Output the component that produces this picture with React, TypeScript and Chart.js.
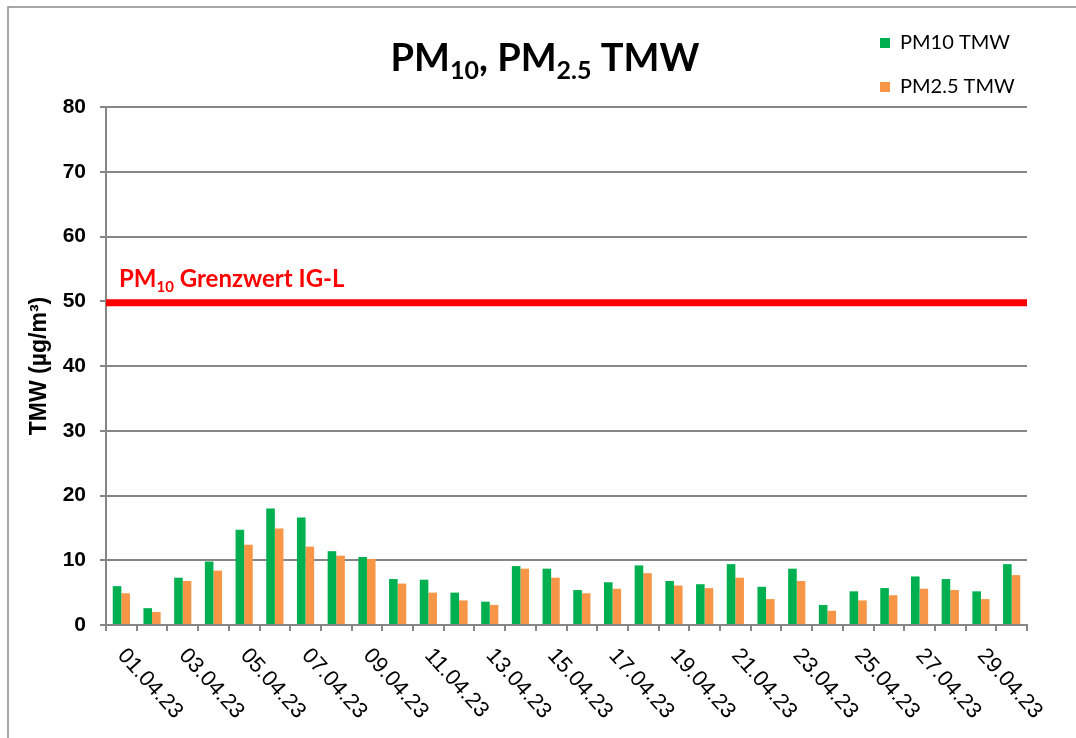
import React, { useEffect, useRef } from "react";
import { Chart, registerables } from "chart.js";

Chart.register(...registerables);

const categories = [
  "01.04.23", "02.04.23", "03.04.23", "04.04.23", "05.04.23", "06.04.23",
  "07.04.23", "08.04.23", "09.04.23", "10.04.23", "11.04.23", "12.04.23",
  "13.04.23", "14.04.23", "15.04.23", "16.04.23", "17.04.23", "18.04.23",
  "19.04.23", "20.04.23", "21.04.23", "22.04.23", "23.04.23", "24.04.23",
  "25.04.23", "26.04.23", "27.04.23", "28.04.23", "29.04.23", "30.04.23",
];

const pm10 = [
  6.0, 2.6, 7.3, 9.8, 14.7, 18.0, 16.6, 11.4, 10.5, 7.1,
  7.0, 5.0, 3.6, 9.1, 8.7, 5.4, 6.6, 9.2, 6.8, 6.3,
  9.4, 5.9, 8.7, 3.1, 5.2, 5.7, 7.5, 7.1, 5.2, 9.4,
];

const pm25 = [
  4.9, 2.0, 6.8, 8.4, 12.4, 14.9, 12.1, 10.7, 10.2, 6.4,
  5.0, 3.8, 3.1, 8.7, 7.3, 4.9, 5.6, 8.0, 6.1, 5.7,
  7.3, 4.0, 6.8, 2.2, 3.8, 4.6, 5.6, 5.4, 4.0, 7.7,
];

const yTicks = [0, 10, 20, 30, 40, 50, 60, 70, 80];
const limitValue = 50;

const seriesNames = ["PM10 TMW", "PM2.5 TMW"];
const seriesColors = ["#00B050", "#F79646"];

const GRID = "#868686";
const CAL = "Lato, 'Open Sans', sans-serif";
const ARIAL = "'Liberation Sans', Arial, sans-serif";

type Part = { t: string; size: number; dy: number };

function drawParts(
  ctx: CanvasRenderingContext2D,
  parts: Part[],
  x: number,
  y: number,
  align: "left" | "center",
  weight: string,
  family: string,
  color: string
) {
  let total = 0;
  for (const p of parts) {
    ctx.font = `${weight} ${p.size}px ${family}`;
    total += ctx.measureText(p.t).width;
  }
  let cx = align === "center" ? x - total / 2 : x;
  ctx.textAlign = "left";
  ctx.textBaseline = "alphabetic";
  ctx.fillStyle = color;
  for (const p of parts) {
    ctx.font = `${weight} ${p.size}px ${family}`;
    ctx.fillText(p.t, cx, y + p.dy);
    cx += ctx.measureText(p.t).width;
  }
}

const decorPlugin = {
  id: "decor",
  beforeDraw(chart: any) {
    const ctx = chart.ctx as CanvasRenderingContext2D;
    ctx.save();
    ctx.fillStyle = "#ffffff";
    ctx.fillRect(0, 0, chart.width, chart.height);
    ctx.strokeStyle = "#8a8a8a";
    ctx.lineWidth = 1.5;
    ctx.beginPath();
    ctx.moveTo(8, chart.height);
    ctx.lineTo(8, 7);
    ctx.lineTo(chart.width, 7);
    ctx.stroke();
    ctx.restore();
  },
  afterDatasetsDraw(chart: any) {
    const ctx = chart.ctx as CanvasRenderingContext2D;
    const { left, right } = chart.chartArea;
    const y = chart.scales.y.getPixelForValue(limitValue) + 1.5;
    ctx.save();
    ctx.strokeStyle = "#FF0000";
    ctx.lineWidth = 7;
    ctx.beginPath();
    ctx.moveTo(left, y);
    ctx.lineTo(right, y);
    ctx.stroke();
    drawParts(
      ctx,
      [
        { t: "PM", size: 24, dy: 0 },
        { t: "10", size: 15, dy: 5 },
        { t: " Grenzwert IG-L", size: 24, dy: 0 },
      ],
      left + 13,
      y - 16,
      "left",
      "bold",
      CAL,
      "#FF0000"
    );
    ctx.restore();
  },
  afterDraw(chart: any) {
    const ctx = chart.ctx as CanvasRenderingContext2D;
    const xs = chart.scales.x;
    const ys = chart.scales.y;
    ctx.save();
    // title
    drawParts(
      ctx,
      [
        { t: "PM", size: 38, dy: 0 },
        { t: "10", size: 25, dy: 8 },
        { t: ", PM", size: 38, dy: 0 },
        { t: "2.5", size: 25, dy: 8 },
        { t: " TMW", size: 38, dy: 0 },
      ],
      545,
      71,
      "center",
      "bold",
      CAL,
      "#000000"
    );
    // legend
    for (let i = 0; i < seriesNames.length; i++) {
      const cy = 43 + i * 44;
      ctx.fillStyle = seriesColors[i];
      ctx.fillRect(880, cy - 5, 10, 10);
      ctx.fillStyle = "#000";
      ctx.font = `20px ${CAL}`;
      ctx.textAlign = "left";
      ctx.textBaseline = "middle";
      ctx.fillText(seriesNames[i], 900, cy);
    }
    // y axis title
    ctx.save();
    ctx.translate(40, (ys.top + ys.bottom) / 2);
    ctx.rotate(-Math.PI / 2);
    ctx.fillStyle = "#000";
    ctx.font = `bold 23px ${ARIAL}`;
    ctx.textAlign = "center";
    ctx.textBaseline = "middle";
    ctx.fillText("TMW (µg/m³)", 0, 0);
    ctx.restore();
    // x labels (rotated clockwise)
    ctx.font = `22px ${ARIAL}`;
    ctx.fillStyle = "#000";
    ctx.textAlign = "left";
    ctx.textBaseline = "middle";
    const ang = (48 * Math.PI) / 180;
    for (let i = 0; i < categories.length; i += 2) {
      const x = xs.getPixelForValue(i);
      ctx.save();
      ctx.translate(x, xs.top + 27);
      ctx.rotate(ang);
      ctx.fillText(categories[i], 0, 0);
      ctx.restore();
    }
    ctx.restore();
  },
};

export default function App() {
  const ref = useRef<HTMLCanvasElement>(null);
  useEffect(() => {
    const chart = new Chart(ref.current as HTMLCanvasElement, {
      type: "bar",
      data: {
        labels: categories,
        datasets: [
          {
            label: seriesNames[0],
            data: pm10,
            backgroundColor: seriesColors[0],
            borderWidth: 0,
            categoryPercentage: 0.56,
            barPercentage: 1,
          },
          {
            label: seriesNames[1],
            data: pm25,
            backgroundColor: seriesColors[1],
            borderWidth: 0,
            categoryPercentage: 0.56,
            barPercentage: 1,
          },
        ],
      },
      options: {
        animation: false,
        responsive: false,
        layout: { padding: { top: 107, right: 49, left: 0, bottom: 0 } },
        plugins: {
          legend: { display: false },
          title: { display: false },
          tooltip: { enabled: false },
        },
        scales: {
          x: {
            offset: true,
            grid: {
              display: true,
              drawOnChartArea: false,
              drawTicks: true,
              tickLength: 6,
              color: GRID,
              lineWidth: 2,
              offset: true,
            },
            border: { display: true, color: GRID, width: 2 },
            ticks: { display: false },
            afterFit: (s: any) => {
              s.height = 113;
            },
          },
          y: {
            min: 0,
            max: 80,
            afterBuildTicks: (s: any) => {
              s.ticks = yTicks.map((v) => ({ value: v }));
            },
            ticks: {
              color: "#000",
              padding: 14,
              font: { family: ARIAL, size: 21, weight: "bold" },
            },
            grid: { color: GRID, lineWidth: 2, tickLength: 6 },
            border: { display: true, color: GRID, width: 2 },
            afterFit: (s: any) => {
              s.width = 106;
            },
          },
        },
      },
      plugins: [decorPlugin],
    } as any);
    return () => chart.destroy();
  }, []);
  return (
    <div style={{ position: "absolute", left: 0, top: 0, width: 1076, height: 738 }}>
      <canvas ref={ref} width={1076} height={738} style={{ display: "block" }} />
    </div>
  );
}
